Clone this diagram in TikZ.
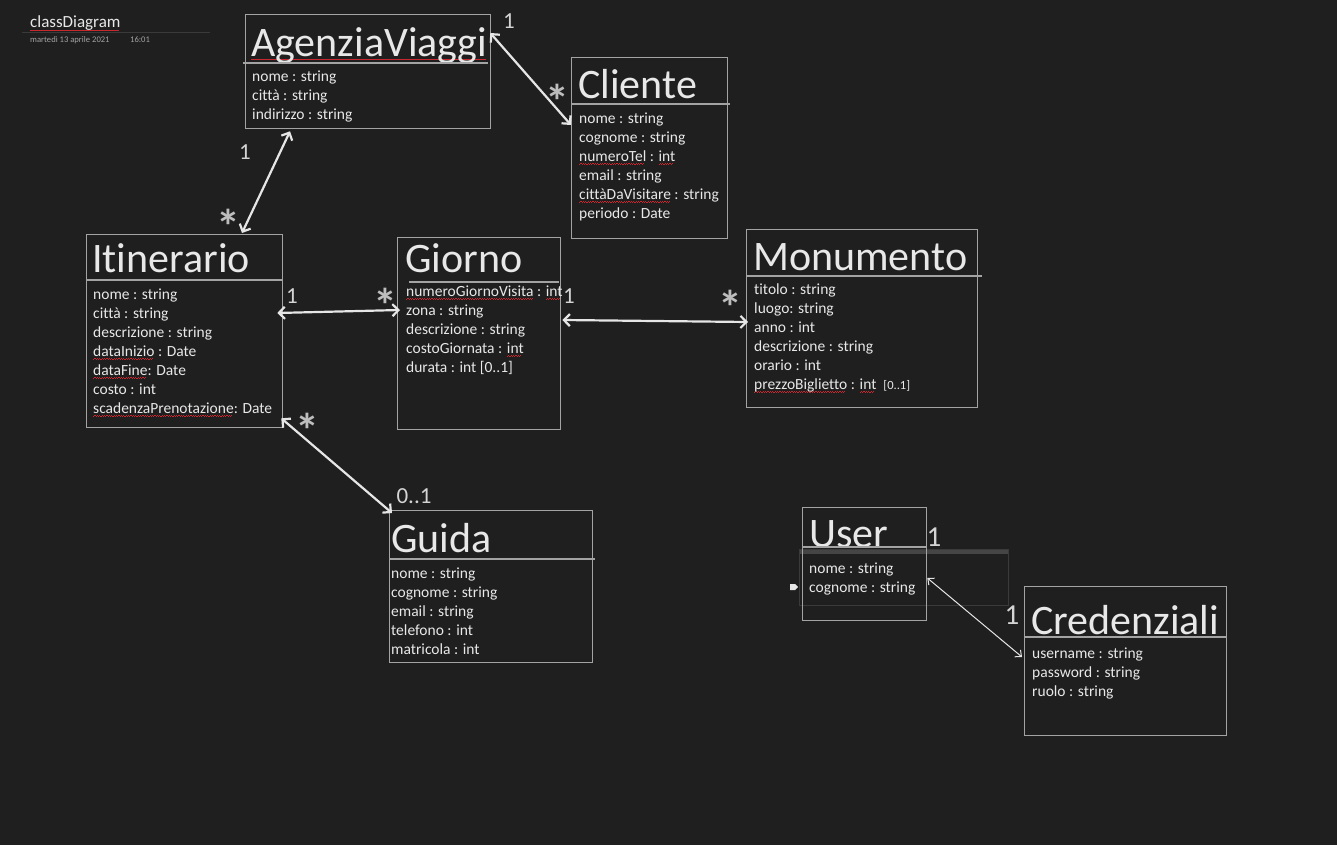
\documentclass[tikz,border=0pt]{standalone}
\usepackage{fontspec}
\setmainfont{Carlito}[Ligatures={NoCommon}]
\usepackage{xcolor}
\usepackage{tikz}
\usetikzlibrary{arrows.meta, positioning}
\definecolor{bgdark}{HTML}{1F1F1F}
\definecolor{boxgray}{HTML}{A3A3A3}
\definecolor{textwhite}{HTML}{E8E8E8}
\definecolor{arrowwhite}{HTML}{E6E6E6}
\definecolor{multgray}{HTML}{D4D4D4}
\definecolor{stargray}{HTML}{BDBDBD}
\definecolor{spellred}{HTML}{C8282E}
\definecolor{uibar}{HTML}{454545}
\definecolor{uiline}{HTML}{3A3A3A}
\newsavebox\spellbox
\newcommand\spell[1]{\sbox\spellbox{#1}\rlap{\textcolor{spellred}{\hbox to\wd\spellbox{\leaders\hbox{\rule[-3.4pt]{1.2pt}{0.9pt}\rule[-2.6pt]{1.2pt}{0.9pt}}\hfill}}}\usebox\spellbox}

\begin{document}
\begin{tikzpicture}[x=1pt, y=-1pt,
        classbox/.style={draw=boxgray, line width=1.3pt, anchor=north west, inner sep=0pt},
        classname/.style={anchor=base west, text=textwhite, inner sep=0pt, font=\fontsize{42}{42}\selectfont},
        attrs/.style={anchor=north west, text=textwhite, align=left, inner sep=0pt, font=\fontsize{15.5}{19}\selectfont},
        sepline/.style={boxgray, line width=1.3pt},
        assoc/.style={arrowwhite, line width=2.2pt, {Straight Barb[length=6pt,width=12pt]}-{Straight Barb[length=6pt,width=12pt]}},
        mult/.style={text=multgray, inner sep=0pt, font=\fontsize{23}{23}\selectfont},
        many/.style={text=stargray, inner sep=0pt, text height=0.65em, text depth=-0.3em, font=\fontsize{48}{48}\selectfont\bfseries}]
          \fill[bgdark] (0,0) rectangle (1337,845);
          \useasboundingbox (0,0) rectangle (1337,845);
          % page header
          \node[anchor=base west, text=textwhite, inner sep=0pt, font=\fontsize{17}{17}\selectfont] (pagetitle) at (30,28) {\spell{classDiagram}};
          \draw[uiline, line width=1pt] (22,33) -- (210,33);
          \node[anchor=base west, text=boxgray, inner sep=0pt, font=\fontsize{8.6}{9}\selectfont] (pagedate) at (30,43) {martedì 13 aprile 2021};
          \node[anchor=base west, text=boxgray, inner sep=0pt, font=\fontsize{8.6}{9}\selectfont] (pagetime) at (130,43) {16:01};
          % classes
          \node[classbox, minimum width=245pt, minimum height=114pt] (agenzia) at (245,14) {};
          \node[classname] (agenziaName) at (251,57) {\spell{AgenziaViaggi}};
          \draw[sepline] (243,63) -- (488,63);
          \node[attrs] (agenziaAttrs) at (252,68) {\strut nome : string\\città : string\\indirizzo : string};
          \node[classbox, minimum width=156pt, minimum height=181pt] (cliente) at (571,57) {};
          \node[classname] (clienteName) at (578,99) {Cliente};
          \draw[sepline] (571,104) -- (730,104);
          \node[attrs] (clienteAttrs) at (579,110) {\strut nome : string\\cognome : string\\\spell{numeroTel} : \spell{int}\\email : string\\\spell{cittàDaVisitare} : string\\periodo : Date};
          \node[classbox, minimum width=196pt, minimum height=193pt] (itinerario) at (86,234) {};
          \node[classname] (itinerarioName) at (92,272) {Itinerario};
          \draw[sepline] (86,280) -- (282,280);
          \node[attrs] (itinerarioAttrs) at (93,286) {\strut nome : string\\città : string\\descrizione : string\\\spell{dataInizio} : Date\\\spell{dataFine}: Date\\costo : int\\\spell{scadenzaPrenotazione}: Date};
          \node[classbox, minimum width=163pt, minimum height=192pt] (giorno) at (397,237) {};
          \node[classname] (giornoName) at (405,272) {Giorno};
          \draw[sepline] (409,282) -- (559,282);
          \node[attrs] (giornoAttrs) at (406,283) {\strut\spell{numeroGiornoVisita} : \spell{int}\\zona : string\\descrizione : string\\costoGiornata : \spell{int}\\durata : int [0..1]};
          \node[classbox, minimum width=231pt, minimum height=178pt] (monumento) at (746,229) {};
          \node[classname] (monumentoName) at (753,270) {Monumento};
          \draw[sepline] (746,276) -- (982,276);
          \node[attrs] (monumentoAttrs) at (754,281) {\strut titolo : string\\luogo: string\\anno : int\\descrizione : string\\orario : int\\\spell{prezzoBiglietto} : \spell{int}\ \ {\fontsize{12.5}{19}\selectfont[0..1]}};
          \node[classbox, minimum width=203pt, minimum height=152pt] (guida) at (389,510) {};
          \node[classname] (guidaName) at (391,552) {Guida};
          \draw[sepline] (389,559) -- (595,559);
          \node[attrs] (guidaAttrs) at (391,565) {\strut nome : string\\cognome : string\\email : string\\telefono : int\\matricola : int};
          \fill[uibar] (799,549) rectangle (1008,554);
          \draw[uiline, line width=0.8pt] (799,549) rectangle (1008,605);
          \node[classbox, minimum width=124pt, minimum height=113pt] (user) at (802,507) {};
          \node[classname] (userName) at (809,547) {User};
          \draw[sepline] (802,547) -- (926,547);
          \node[attrs] (userAttrs) at (809,560) {\strut nome : string\\cognome : string};
          \fill[textwhite] (790,584) -- (795,584) -- (798,587) -- (795,590) -- (790,590) -- cycle;
          \node[classbox, minimum width=202pt, minimum height=149pt] (credenziali) at (1024,586) {};
          \node[classname] (credenzialiName) at (1031,634) {Credenziali};
          \draw[sepline] (1024,637) -- (1226,637);
          \node[attrs] (credenzialiAttrs) at (1032,645) {\strut username : string\\password : string\\ruolo : string};
          % associations
          \draw[assoc] ([xshift=-1pt,yshift=-19pt]agenzia.north east) -- ([yshift=-68pt]cliente.north west);
          \draw[assoc] ([xshift=45pt,yshift=-2pt]agenzia.south west) -- ([xshift=156pt,yshift=1pt]itinerario.north west);
          \draw[assoc] ([xshift=-6pt,yshift=-79pt]itinerario.north east) -- ([xshift=3pt,yshift=-73pt]giorno.north west);
          \draw[assoc] ([xshift=1pt,yshift=-83pt]giorno.north east) -- ([xshift=2pt,yshift=-93pt]monumento.north west);
          \draw[assoc] ([xshift=-2pt,yshift=10pt]itinerario.south east) -- ([xshift=3pt,yshift=-3pt]guida.north west);
          \draw[assoc, line width=1pt, {Straight Barb[length=5pt,width=9pt]}-{Straight Barb[length=5pt,width=9pt]}] ([yshift=-71pt]user.north east) -- ([xshift=-2pt,yshift=-71pt]credenziali.north west);
          % multiplicities
          \node[mult] (multAgCl) at (509,21) {1};
          \node[many] (manyAgCl) at (557,115) {*};
          \node[mult] (multAgIt) at (245,152) {1};
          \node[many] (manyAgIt) at (228,240) {*};
          \node[mult] (multItGi) at (292,296) {1};
          \node[many] (manyItGi) at (385,319) {*};
          \node[mult] (multGiMo) at (569,296) {1};
          \node[many] (manyGiMo) at (730,321) {*};
          \node[many] (manyItGu) at (307,444) {*};
          \node[mult] (multItGu) at (414,496) {0..1};
          \node[mult, font=\fontsize{29}{29}\selectfont] (multUsCr) at (934,537) {1};
          \node[mult, font=\fontsize{29}{29}\selectfont] (multCrUs) at (1012,615) {1};
        \end{tikzpicture}
\end{document}
